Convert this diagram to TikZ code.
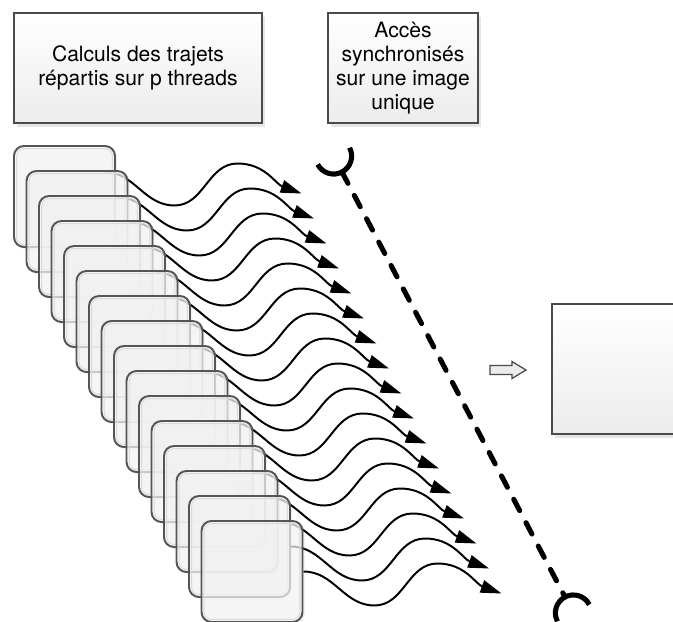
\documentclass[tikz,border=0pt]{standalone}
\usepackage{fontspec}
\setmainfont{TeX Gyre Heros}
\usetikzlibrary{positioning,arrows.meta,calc,backgrounds,shadows}
\definecolor{edge}{HTML}{4A4A4A}
\definecolor{tileedge}{HTML}{555555}
\definecolor{paneshade}{HTML}{ECECEC}

\begin{document}
\begin{tikzpicture}[
  font=\fontsize{15}{17}\selectfont,
  >={Triangle[length=0.52cm,width=0.32cm]},
  labelbox/.style={draw=edge, line width=1.1pt, align=center, inner sep=2pt,
    top color=white, bottom color=paneshade,
    drop shadow={opacity=0.2, shadow xshift=0.07cm, shadow yshift=-0.09cm}},
  tile/.style={draw=tileedge, line width=1.4pt, rounded corners=0.25cm, fill=gray!6,
    fill opacity=0.7, minimum size=2.525cm, inner sep=0pt,
    drop shadow={opacity=0.1, shadow xshift=0.06cm, shadow yshift=-0.06cm}},
  gloss/.style={draw=gray!30, line width=0.6pt, rounded corners=0.18cm},
  wave/.style={->, line width=1.4pt},
  sync/.style={line width=3.6pt, dash pattern=on 0.32cm off 0.34cm, line cap=round},
  socket/.style={line width=3.6pt},
  hollow/.style={draw=edge, line width=0.9pt, fill=gray!15, line join=miter},
]
% Picture is 673 x 621 px at 40 px per cm; origin at the top left corner.
\useasboundingbox (0,0) rectangle (16.825,-15.525);
\clip (0,0) rectangle (16.825,-15.525);

% --- Titles ---------------------------------------------------------------
\node[labelbox, minimum width=6.2cm, minimum height=2.75cm] (calc) at (3.45,-1.7)
  {Calculs des trajets\\répartis sur p threads};
\node[labelbox, minimum width=3.75cm, minimum height=2.75cm] (acces) at (10.075,-1.7)
  {Accès\\synchronisés\\sur une image\\unique};

% --- Stack of thread tiles ------------------------------------------------
\foreach \k in {0,...,15} {
  \node[tile] (b\k) at ({1.6125+0.3125*\k},{-4.9125-0.625*\k}) {};
  \draw[gloss] ($(b\k.south west)+(0.09,0.09)$) rectangle ($(b\k.north east)+(-0.09,-0.09)$);
}

% --- Wavy paths, behind the tiles -------------------------------------------
\begin{scope}[on background layer]
  \foreach \k in {0,...,16} {
    \coordinate (s\k) at ($(b0.east)+({0.3125*(\k-1)},{-0.625*(\k-1)})$);
    \coordinate (t\k) at ($(s\k)+(4.95,-0.55)$);
    \draw[wave] (s\k) to[out=0,in=180] ++(1.775,-0.85)
      to[out=0,in=180] ++(1.575,1.05) to[out=0,in=160] (t\k);
  }
\end{scope}

% --- Synchronised access: dashed bar with a socket at each end ---------------
\coordinate (stop) at (8.55,-4.3);
\coordinate (sbot) at (14.125,-14.925);
\draw[sync] (stop) -- (sbot);
\coordinate (ctop) at ($(stop)!-0.45cm!(sbot)$);
\coordinate (cbot) at ($(sbot)!-0.45cm!(stop)$);
\draw[socket] (ctop) ++(27.7:0.45) arc[start angle=27.7, end angle=-152.3, radius=0.45];
\draw[socket] (cbot) ++(27.7:0.45) arc[start angle=27.7, end angle=207.7, radius=0.45];

% --- Single image ------------------------------------------------------------
\node[labelbox, minimum width=3.7cm, minimum height=3.25cm, anchor=west] (img)
  at (13.775,-9.225) {};
\begin{scope}[shift={(img.west)}]
  \draw[hollow] (-1.525,0.0875) -- (-0.975,0.0875) -- (-0.975,0.1875) -- (-0.625,-0.025)
    -- (-0.975,-0.2375) -- (-0.975,-0.1375) -- (-1.525,-0.1375) -- cycle;
\end{scope}

\end{tikzpicture}
\end{document}
